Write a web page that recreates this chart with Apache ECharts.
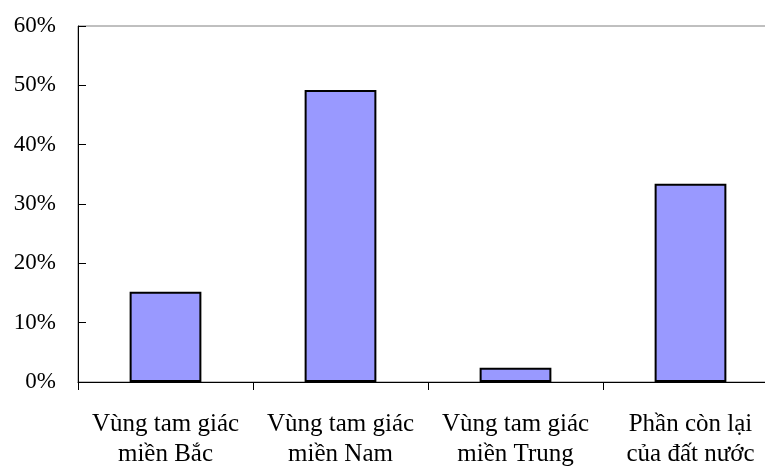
<!DOCTYPE html>
<html><head><meta charset="utf-8">
<script src="https://cdn.jsdelivr.net/npm/echarts@6/dist/echarts.min.js"></script>
<style>html,body{margin:0;padding:0;background:#fff;overflow:hidden;width:765px;height:466px}#c{width:800px;height:466px}</style>
</head><body><div id="c"></div>
<script>
const categories = ["Vùng tam giác\nmiền Bắc", "Vùng tam giác\nmiền Nam", "Vùng tam giác\nmiền Trung", "Phần còn lại\ncủa đất nước"];
const values = [15.2, 49.2, 2.4, 33.4];
const yTicks = { min: 0, max: 60, interval: 10 };

const chart = echarts.init(document.getElementById('c'), null, { renderer: 'canvas' });
const font = '"Liberation Serif", "Times New Roman", serif';
chart.setOption({
  animation: false,
  grid: { left: 78, right: 22, top: 26, bottom: 84, outerBoundsMode: 'none', containLabel: false, show: true, borderColor: '#808080', borderWidth: 1, backgroundColor: 'transparent' },
  xAxis: {
    type: 'category', data: categories,
    axisLine: { lineStyle: { color: '#000', width: 1 } },
    axisTick: { show: true, length: 8, inside: false, lineStyle: { color: '#000' } },
    axisLabel: { color: '#000', fontFamily: font, fontSize: 25, lineHeight: 30, margin: 27, interval: 0 }
  },
  yAxis: {
    type: 'value', min: yTicks.min, max: yTicks.max, interval: yTicks.interval,
    splitLine: { show: false },
    axisLine: { show: true, lineStyle: { color: '#000', width: 1 } },
    axisTick: { show: true, inside: true, length: 8, lineStyle: { color: '#000' } },
    axisLabel: { color: '#000', fontFamily: font, fontSize: 23, margin: 22, formatter: '{value}%' }
  },
  series: [{
    type: 'bar', data: values, barWidth: '41%',
    itemStyle: { color: '#9999FF', borderColor: '#000', borderWidth: 2 }
  }]
});
</script></body></html>
